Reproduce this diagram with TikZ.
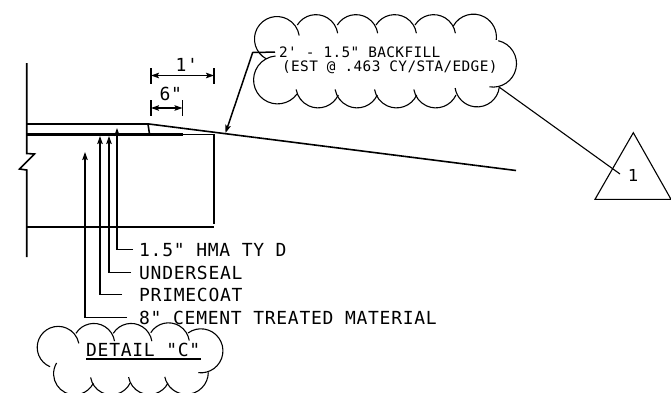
\documentclass[tikz,border=0pt]{standalone}
\usepackage{fontspec}
\usetikzlibrary{arrows.meta}
\newfontfamily\cadfont[LetterSpace=4]{DejaVu Sans Mono}
\newfontfamily\cadsmall[LetterSpace=2.5]{DejaVu Sans Mono}
\newfontfamily\tagfont{DejaVu Sans}

\tikzset{
  bigtext/.style={font=\cadfont\fontsize{18}{20}\selectfont,anchor=base west,inner ysep=0pt,inner xsep=0pt},
  smalltext/.style={font=\cadsmall\fontsize{14.4}{16}\selectfont,anchor=base west,inner ysep=0pt,inner xsep=0pt},
  thinline/.style={line width=1.1pt},
  mainline/.style={line width=1.6pt},
  heavyline/.style={line width=3.2pt},
  leader/.style={line width=1.5pt,->},
  cloudline/.style={line width=1.1pt},
  bumpup/.style={start angle=-148,end angle=-9,radius=22},
  bumpupb/.style={start angle=-148,end angle=-9,radius=21},
  bumpdown/.style={start angle=25,end angle=170,radius=22.3},
  bumpdownb/.style={start angle=27,end angle=170,radius=21}
}

\begin{document}
\begin{tikzpicture}[x=1pt,y=-1pt,>={Stealth[length=8pt,width=5.5pt,inset=1.5pt]}]
  \useasboundingbox (0,0) rectangle (671,392);

  % pavement section
  \draw[mainline] (26.7,63) -- (26.7,153.5) -- (34.5,154) -- (19.5,169) -- (26.7,170) -- (26.7,257);
  \draw[mainline] (26.7,124) -- (149,124) -- (516,170.5);
  \draw[mainline] (148,124) -- (149.5,134);
  \draw[heavyline] (26.7,134.5) -- (183,134.5);
  \draw[mainline] (183,134.5) -- (214,134.5) -- (214,224);
  \draw[mainline] (26.7,226.7) -- (214,226.7);

  % dimensions
  \coordinate (onel) at (151,75.5);
  \coordinate (oner) at (214,75.5);
  \coordinate (sixl) at (151,108);
  \coordinate (sixr) at (182.5,108);
  \draw[mainline] (151,68) -- (151,84) (214,68) -- (214,84);
  \draw[mainline] (151,100) -- (151,116) (182.5,100) -- (182.5,116);
  \draw[leader,<->] (onel) -- (oner);
  \draw[leader,<->] (sixl) -- (sixr);
  \node[bigtext] (onefoot) at (175.5,71.7) {1'};
  \node[bigtext] (sixinch) at (159.5,100) {6"};

  % layer labels
  \coordinate (hmatip) at (117,128);
  \coordinate (sealtip) at (109,136);
  \coordinate (primetip) at (100,136);
  \coordinate (cementtip) at (85,152);
  \node[bigtext,inner xsep=6pt] (hma) at (133,256) {1.5" HMA TY D};
  \node[bigtext,inner xsep=8pt] (seal) at (131,279) {UNDERSEAL};
  \node[bigtext,inner xsep=17pt] (prime) at (122,301) {PRIMECOAT};
  \node[bigtext,inner xsep=12pt] (cement) at (127,324) {8" CEMENT TREATED MATERIAL};
  \draw[leader] (hma.west) -| (hmatip);
  \draw[leader] (seal.west) -| (sealtip);
  \draw[leader] (prime.west) -| (primetip);
  \draw[leader] (cement.west) -| (cementtip);

  % backfill note
  \coordinate (filltip) at (225.5,133);
  \coordinate (fillknee) at (252.7,52.5);
  \node[smalltext,inner xsep=4pt] (filla) at (275,57.3) {2' - 1.5" BACKFILL};
  \node[smalltext] (fillb) at (282,71) {(EST @ .463 CY/STA/EDGE)};
  \draw[leader] (filla.west) -- (fillknee) -- (filltip);

  % backfill cloud
  \draw[cloudline] (266.4,58.9) arc[start angle=-242,end angle=-9,radius=22.5];
  \draw[cloudline] (297.3,25) arc[bumpup];
  \draw[cloudline] (337.3,25) arc[bumpup];
  \draw[cloudline] (376,25) arc[bumpup];
  \draw[cloudline] (415,25) arc[bumpup];
  \draw[cloudline] (453.3,26) arc[start angle=-151,end angle=7,radius=23];
  \draw[cloudline] (498.3,40.7) arc[start angle=-77,end angle=99,radius=23.5];
  \draw[cloudline] (499.3,87.3) arc[start angle=7,end angle=171,radius=22.3];
  \draw[cloudline] (456,95) arc[bumpdown];
  \draw[cloudline] (416.7,95) arc[bumpdown];
  \draw[cloudline] (377.3,95) arc[bumpdown];
  \draw[cloudline] (338.3,95) arc[bumpdown];
  \draw[cloudline] (297,94) arc[start angle=36,end angle=265,radius=24];

  % revision tag
  \coordinate (cloudtip) at (499,87);
  \coordinate (tagtip) at (620,174);
  \coordinate (tagtop) at (633.3,132.7);
  \coordinate (tagleft) at (595,199.3);
  \coordinate (tagright) at (671,199.3);
  \draw[thinline] (tagtop) -- (tagleft) -- (tagright) -- cycle;
  \draw[thinline] (cloudtip) -- (tagtip);
  \node[font=\tagfont\fontsize{16.5}{18}\selectfont] (tagnum) at (633.3,175) {1};

  % detail title
  \node[bigtext] (detail) at (86,356.7) {DETAIL "C"};
  \draw[mainline] ([yshift=-2.5pt]detail.base west) -- ([yshift=-2.5pt]detail.base east);
  \draw[cloudline] (50,366.7) arc[start angle=-247,end angle=-11,radius=21];
  \draw[cloudline] (76,333.3) arc[bumpupb];
  \draw[cloudline] (113.3,333.3) arc[bumpupb];
  \draw[cloudline] (150.7,332.7) arc[bumpupb];
  \draw[cloudline] (188,333) arc[start angle=-126,end angle=97,radius=22];
  \draw[cloudline] (208.3,372.3) arc[start angle=0,end angle=168,radius=22];
  \draw[cloudline] (168,383) arc[bumpdownb];
  \draw[cloudline] (130,383.3) arc[bumpdownb];
  \draw[cloudline] (93.3,383.3) arc[start angle=27,end angle=211,radius=21];
\end{tikzpicture}
\end{document}
